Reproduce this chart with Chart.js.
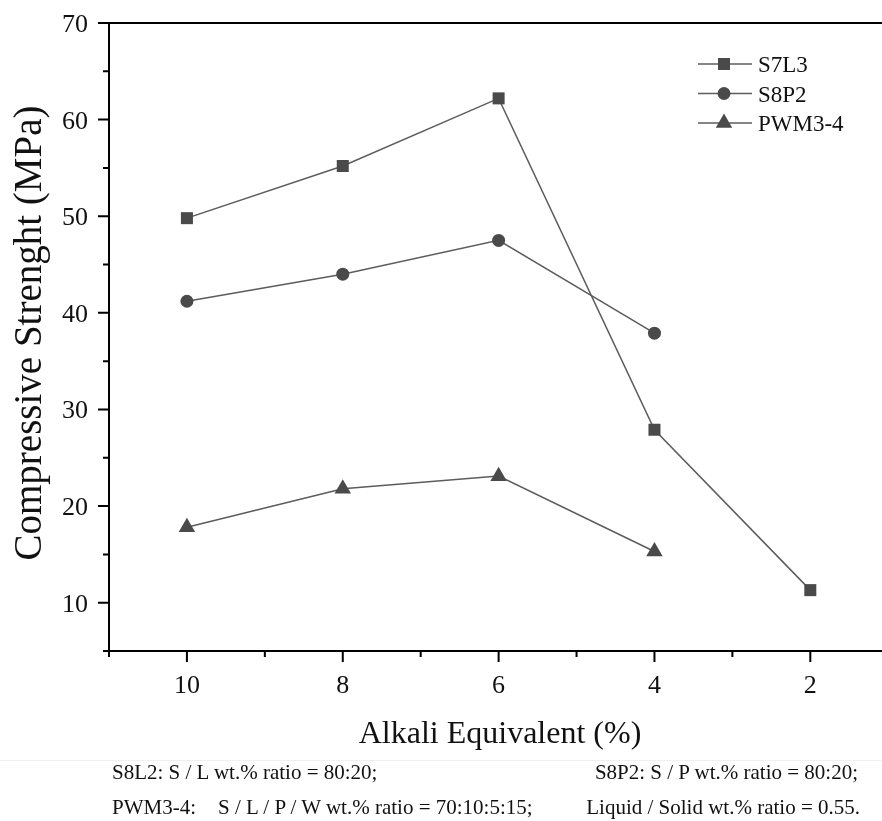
<!DOCTYPE html>
<html>
<head>
<meta charset="utf-8">
<title>Compressive strength vs alkali equivalent</title>
<script src="https://cdn.jsdelivr.net/npm/chart.js@4.4.1/dist/chart.umd.min.js"></script>
<style>
  html, body { margin: 0; padding: 0; background: #fff; }
  #wrap { position: relative; width: 882px; height: 821px; overflow: hidden; }
  #chart { position: absolute; left: 0; top: 0; }
  #rule { position: absolute; left: 0; top: 760px; width: 882px; height: 1px; background: #f0f0f0; }
  .note {
    position: absolute;
    font-family: 'Liberation Serif', 'Times New Roman', serif;
    font-size: 21px;
    line-height: 21px;
    color: #111;
    white-space: pre;
  }
</style>
</head>
<body>
<div id="wrap">
  <canvas id="chart" width="882" height="821"></canvas>
  <div id="rule"></div>
  <span class="note" style="left:112px; top:762px">S8L2: S / L wt.% ratio = 80:20;</span>
  <span class="note" style="right:24px; top:762px">S8P2: S / P wt.% ratio = 80:20;</span>
  <span class="note" style="left:112px; top:797px">PWM3-4:</span>
  <span class="note" style="left:218px; top:797px">S / L / P / W wt.% ratio = 70:10:5:15;</span>
  <span class="note" style="right:22px; top:797px">Liquid / Solid wt.% ratio = 0.55.</span>
</div>
<script>
// Alkali equivalent (%) on x, compressive strength (MPa) on y
const alkali = [10, 8, 6, 4, 2];
const s7l3 = [49.8, 55.2, 62.2, 27.9, 11.3];
const s8p2 = [41.2, 44.0, 47.5, 37.9];
const pwm34 = [17.8, 21.8, 23.1, 15.3];
const seriesNames = ['S7L3', 'S8P2', 'PWM3-4'];

// axis ticks (x axis runs high -> low)
const xMajor = [10, 8, 6, 4, 2];
const xMinor = [11, 9, 7, 5, 3];
const yMajor = [10, 20, 30, 40, 50, 60, 70];
const yMinor = [5, 15, 25, 35, 45, 55, 65];

const SERIF = '"Liberation Serif", "Times New Roman", serif';
const LINE = '#5c5c5c';
const MARK = '#4a4a4a';

function toPoints(ys) {
    return ys.map((v, i) => ({ x: alkali[i], y: v }));
}

function series(label, ys, style, radius) {
    return {
        label: label,
        data: toPoints(ys),
        borderColor: LINE,
        borderWidth: 1.5,
        backgroundColor: MARK,
        pointStyle: style,
        pointRadius: radius,
        pointBackgroundColor: MARK,
        pointBorderColor: MARK,
        pointBorderWidth: 0,
        tension: 0,
        clip: false
    };
}

/**
 * Frame, ticks, tick labels and axis titles
 */
const axisFrame = {
    id: 'axisFrame',
    afterDraw(chart) {
        const ctx = chart.ctx;
        const a = chart.chartArea;
        const x = chart.scales.x;
        const y = chart.scales.y;

        ctx.save();
        ctx.strokeStyle = '#000';
        ctx.lineWidth = 2;
        ctx.beginPath();
        ctx.moveTo(a.left, a.top);
        ctx.lineTo(a.left, a.bottom + 1);
        ctx.moveTo(a.left - 1, a.bottom);
        ctx.lineTo(a.right, a.bottom);
        ctx.moveTo(a.left, a.top);
        ctx.lineTo(a.right, a.top);

        yMajor.forEach(v => {
            const py = y.getPixelForValue(v);
            ctx.moveTo(a.left - 11, py);
            ctx.lineTo(a.left, py);
        });
        yMinor.forEach(v => {
            const py = y.getPixelForValue(v);
            ctx.moveTo(a.left - 6, py);
            ctx.lineTo(a.left, py);
        });
        xMajor.forEach(v => {
            const px = x.getPixelForValue(v);
            ctx.moveTo(px, a.bottom);
            ctx.lineTo(px, a.bottom + 11);
        });
        xMinor.forEach(v => {
            const px = x.getPixelForValue(v);
            ctx.moveTo(px, a.bottom);
            ctx.lineTo(px, a.bottom + 6);
        });
        ctx.stroke();

        // tick labels
        ctx.fillStyle = '#111';
        ctx.font = '26px ' + SERIF;
        ctx.textBaseline = 'alphabetic';
        ctx.textAlign = 'right';
        yMajor.forEach(v => {
            ctx.fillText(String(v), a.left - 21, y.getPixelForValue(v) + 9);
        });
        ctx.textAlign = 'center';
        xMajor.forEach(v => {
            ctx.fillText(String(v), x.getPixelForValue(v), a.bottom + 42);
        });

        // axis titles
        ctx.font = '32px ' + SERIF;
        ctx.fillText('Alkali Equivalent (%)', 500, a.bottom + 92);

        ctx.save();
        ctx.translate(41, 333);
        ctx.rotate(-Math.PI / 2);
        ctx.font = '39px ' + SERIF;
        ctx.textAlign = 'center';
        ctx.fillText('Compressive Strenght (MPa)', 0, 0);
        ctx.restore();

        ctx.restore();
    }
};

/**
 * Legend in the upper right of the plot
 */
const insideLegend = {
    id: 'insideLegend',
    afterDraw(chart) {
        const ctx = chart.ctx;
        const a = chart.chartArea;
        const left = a.right - 184;
        const rowTop = a.top + 41;
        const rowGap = 29.5;

        ctx.save();
        chart.data.datasets.forEach((ds, i) => {
            const cy = rowTop + i * rowGap;
            ctx.strokeStyle = ds.borderColor;
            ctx.lineWidth = ds.borderWidth;
            ctx.beginPath();
            ctx.moveTo(left, cy);
            ctx.lineTo(left + 54, cy);
            ctx.stroke();

            ctx.fillStyle = ds.pointBackgroundColor;
            Chart.helpers.drawPoint(ctx, {
                pointStyle: ds.pointStyle,
                radius: ds.pointRadius,
                rotation: 0,
                borderWidth: 0
            }, left + 26, cy);

            ctx.fillStyle = '#111';
            ctx.font = '23px ' + SERIF;
            ctx.textAlign = 'left';
            ctx.textBaseline = 'alphabetic';
            ctx.fillText(ds.label, left + 60, cy + 8);
        });
        ctx.restore();
    }
};

new Chart(document.getElementById('chart'), {
    type: 'line',
    data: {
        datasets: [
            series(seriesNames[0], s7l3, 'rect', 8.5),
            series(seriesNames[1], s8p2, 'circle', 6.5),
            series(seriesNames[2], pwm34, 'triangle', 9.5)
        ]
    },
    options: {
        responsive: false,
        animation: false,
        events: [],
        layout: {
            autoPadding: false,
            padding: { left: 109, top: 23, right: 0, bottom: 170 }
        },
        plugins: {
            legend: { display: false },
            tooltip: { enabled: false }
        },
        scales: {
            x: { type: 'linear', reverse: true, min: 1.08, max: 11, display: false },
            y: { type: 'linear', min: 5, max: 70, display: false }
        }
    },
    plugins: [axisFrame, insideLegend]
});
</script>
</body>
</html>
